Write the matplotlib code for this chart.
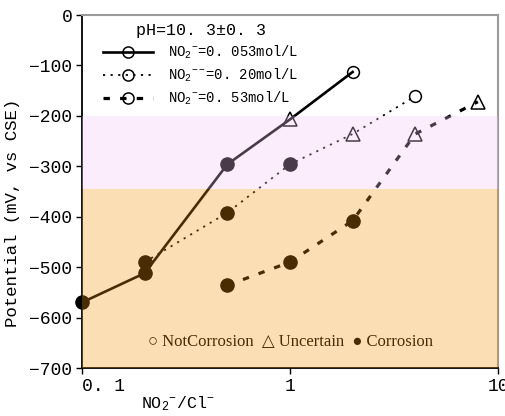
import matplotlib
matplotlib.use("Agg")
import matplotlib.pyplot as plt
from matplotlib.lines import Line2D

plt.rcParams['mathtext.fontset'] = 'custom'
plt.rcParams['mathtext.rm'] = 'Liberation Mono'
plt.rcParams['mathtext.it'] = 'Liberation Mono'

MONO = ['Liberation Mono', 'DejaVu Sans Mono']

# ---- data ----
ratio_a = [0.1, 0.2, 0.5, 1, 2]
pot_a = [-570, -512, -296, -207, -113]
state_a = ['C', 'C', 'C', 'U', 'N']

ratio_b = [0.2, 0.5, 1, 2, 4]
pot_b = [-490, -392, -296, -236, -161]
state_b = ['C', 'C', 'C', 'U', 'N']

ratio_c = [0.5, 1, 2, 4, 8]
pot_c = [-536, -490, -408, -236, -172]
state_c = ['C', 'C', 'C', 'U', 'U']

labels = ["NO$_2$$^{-}$=0. 053mol/L", "NO$_2$$^{--}$=0. 20mol/L", "NO$_2$$^{-}$=0. 53mol/L"]
legend_title = "pH=10. 3\u00b10. 3"
ytick_vals = [0, -100, -200, -300, -400, -500, -600, -700]
xtick_vals = [0.1, 1, 10]
xtick_labels = ["0. 1", "1", "10"]
band_uncertain = (-345, -200)
band_corrosion = (-700, -345)

fig = plt.figure(figsize=(5.06, 4.16), dpi=100)
ax = fig.add_axes([82/506, 48/416, 416/506, 353/416])

styles = [
    dict(ls='-', lw=1.9),
    dict(ls=(0, (1.2, 3.0)), lw=1.3),
    dict(ls=(0, (2.0, 3.2)), lw=2.3),
]

for xs, ys, st, sty in zip([ratio_a, ratio_b, ratio_c], [pot_a, pot_b, pot_c],
                           [state_a, state_b, state_c], styles):
    ax.plot(xs, ys, color='black', zorder=3, **sty)
    for x, y, s in zip(xs, ys, st):
        if s == 'C':
            ax.plot([x], [y], marker='o', ms=9.5, color='black', mec='black',
                    ls='none', zorder=4, clip_on=False)
        elif s == 'U':
            ax.plot([x], [y], marker='^', ms=10.5, mfc='none', mec='black',
                    mew=1.1, ls='none', zorder=4, clip_on=False)
        else:
            ax.plot([x], [y], marker='o', ms=8.5, mfc='none', mec='black',
                    mew=1.1, ls='none', zorder=4, clip_on=False)

# overlay bands (semi-transparent, on top, tinting what is below)
ax.axhspan(*band_uncertain, color=(245/255, 198/255, 245/255), alpha=0.3, lw=0, zorder=10)
ax.axhspan(*band_corrosion, color=(248/255, 148/255, 8/255), alpha=0.3, lw=0, zorder=10)

ax.text(0.50, 0.075, "\u25cb NotCorrosion  \u25b3 Uncertain  \u25cf Corrosion",
        transform=ax.transAxes, ha='center', va='center', fontsize=12,
        family=['Liberation Serif', 'DejaVu Sans'], color='black', zorder=5)

ax.set_xscale('log')
ax.set_xlim(0.1, 10)
ax.set_ylim(-700, 0)
ax.set_yticks(ytick_vals)
ax.set_yticklabels(["0" if v == 0 else "\u2212%d" % (-v) for v in ytick_vals],
                   family=MONO, fontsize=13)
ax.set_xticks(xtick_vals)
ax.set_xticklabels(xtick_labels, family=MONO, fontsize=13)
ax.xaxis.set_minor_locator(matplotlib.ticker.NullLocator())
ax.get_xticklabels()[0].set_horizontalalignment('left')
ax.tick_params(axis='both', direction='out', length=4, width=1, pad=3)

for s in ['top', 'right']:
    ax.spines[s].set_color('#9a9a9a')
    ax.spines[s].set_linewidth(1.5)
for s in ['left', 'bottom']:
    ax.spines[s].set_color('black')
    ax.spines[s].set_linewidth(1.3)

ax.set_ylabel("Potential (mV, vs CSE)", family=MONO, fontsize=12.5)
ax.yaxis.set_label_coords(-0.15, 0.44)
ax.set_xlabel("NO$_2$$^{-}$/Cl$^{-}$", fontsize=12, family=MONO)
ax.xaxis.set_label_coords(0.23, -0.075)

handles = [Line2D([], [], color='black', marker='o', ms=8, mfc='none', mec='black', mew=1.1, **sty)
           for sty in styles]
leg = ax.legend(handles, labels, title=legend_title, loc='upper left',
                bbox_to_anchor=(0.03, 1.0), frameon=False, fontsize=10,
                handlelength=3.6, handletextpad=1.1, labelspacing=0.4,
                borderaxespad=0.2)
leg.get_title().set_fontfamily(MONO)
leg.get_title().set_fontsize(12)
for t in leg.get_texts():
    t.set_fontfamily(MONO)

fig.savefig("out.png", dpi=100)
